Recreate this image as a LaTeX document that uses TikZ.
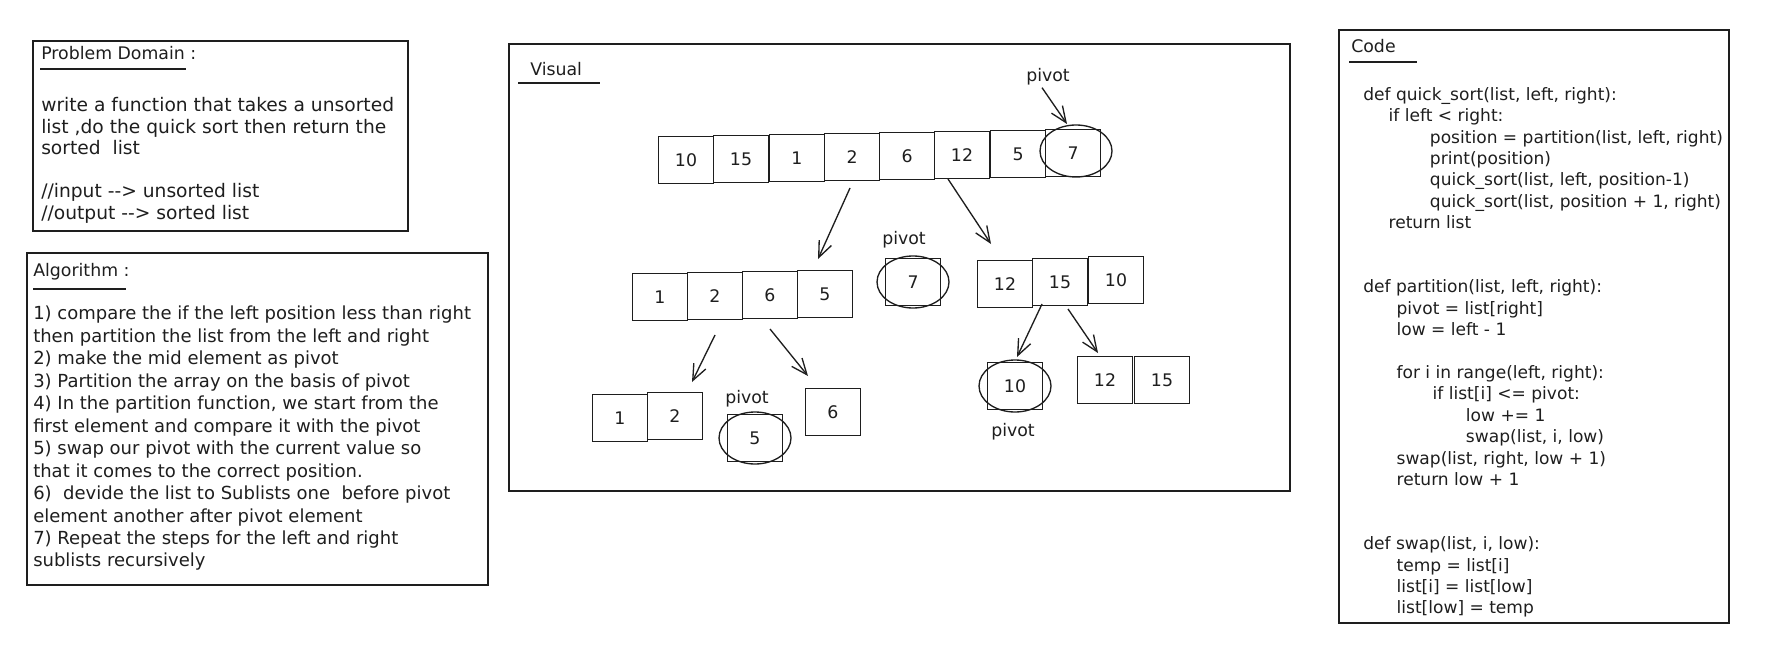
\documentclass[tikz,border=0pt]{standalone}
\usepackage{fontspec}
\setmainfont{DejaVu Sans}
\usetikzlibrary{arrows.meta}
\usetikzlibrary{calc}
\definecolor{ink}{HTML}{1E1E1E}

\begin{document}
\begin{tikzpicture}[
  x=0.75pt, y=-0.75pt,
  panel/.style={draw=ink, line width=1.2pt},
  cell/.style={draw=ink, line width=1pt, minimum width=41pt, minimum height=35pt,
    inner sep=0pt, text=ink, font=\fontsize{13}{15}\selectfont},
  ring/.style={draw=ink, line width=1pt},
  arr/.style={draw=ink, line width=1pt, -{Straight Barb[length=12pt,width=10pt]}},
  lbl/.style={inner sep=0pt, text=ink, font=\fontsize{13}{15}\selectfont},
  para/.style={inner sep=0pt, anchor=north west, align=left, text=ink},
]
\useasboundingbox (0,0) rectangle (1772,670);

% panels
\draw [panel] (33,41) rectangle (408,231);
\draw [panel] (27,253) rectangle (488,585);
\draw [panel] (509,44) rectangle (1290,491);
\draw [panel] (1339,30) rectangle (1729,623);

% problem domain
\node [lbl, anchor=base west] (pdtitle) at (41,60) {Problem Domain :};
\draw [ink, line width=1pt] (40,69) -- (186,69);
\node [para, font=\fontsize{14}{16.2}\selectfont] (pdtext) at (41,97)
  {write a function that takes a unsorted\\
   list ,do the quick sort then return the\\
   sorted\ \ list\\ \mbox{}\\
   //input {-}{-}> unsorted list\\
   //output {-}{-}> sorted list};

% algorithm
\node [lbl, anchor=base west] (algtitle) at (33,276) {Algorithm :};
\draw [ink, line width=1pt] (33,289) -- (126,289);
\node [para, font=\fontsize{13.5}{16.84}\selectfont] (algtext) at (33,306)
  {1) compare the if the left position less than right\\
   then partition the list from the left and right\\
   2) make the mid element as pivot\\
   3) Partition the array on the basis of pivot\\
   4) In the partition function, we start from the\\
   first element and compare it with the pivot\\
   5) swap our pivot with the current value so\\
   that it comes to the correct position.\\
   6)\ \ devide the list to Sublists one\ \ before pivot\\
   element another after pivot element\\
   7) Repeat the steps for the left and right\\
   sublists recursively};

% visual
\node [lbl, anchor=base west] (vistitle) at (530,76) {Visual};
\draw [ink, line width=1pt] (518,83) -- (600,83);

\node [cell] (t1) at (686,160) {10};
\node [cell] (t2) at (741,159) {15};
\node [cell] (t3) at (797,158) {1};
\node [cell] (t4) at (852,157) {2};
\node [cell] (t5) at (907,156) {6};
\node [cell] (t6) at (962,155) {12};
\node [cell] (t7) at (1018,154) {5};
\node [cell] (t8) at (1073,153) {7};
\draw [ring] ($(t8.center)+(3,-2)$) ellipse [x radius=36, y radius=26];
\node [lbl] (p1) at (1048,77) {pivot};
\draw [arr] ($(p1.south)+(-6,2)$) -- ($(t8.north)+(-6,-5)$);

\node [cell] (m1) at (660,297) {1};
\node [cell] (m2) at (715,296) {2};
\node [cell] (m3) at (770,295) {6};
\node [cell] (m4) at (825,294) {5};
\draw [arr] ($(t4.south)+(-2,7)$) -- ($(m4.north)+(-7,-11)$);

\node [cell] (c7) at (913,282) {7};
\draw [ring] (c7.center) ellipse [x radius=36, y radius=26];
\node [lbl] (p2) at (904,240) {pivot};

\node [cell] (r1) at (1005,284) {12};
\node [cell] (r2) at (1060,282) {15};
\node [cell] (r3) at (1116,280) {10};
\draw [arr] ($(t6.south)+(-14,0)$) -- ($(r1.north)+(-14,-16)$);

\node [cell] (l1) at (620,418) {1};
\node [cell] (l2) at (675,416) {2};
\node [cell] (l3) at (755,438) {5};
\draw [ring] (l3.center) ellipse [x radius=36, y radius=26];
\node [lbl] (p3) at (747,399) {pivot};
\node [cell] (l4) at (833,412) {6};
\draw [arr] ($(m2.south)+(0,15)$) -- ($(l2.north)+(17,-10)$);
\draw [arr] ($(m3.south)+(0,10)$) -- ($(l4.north)+(-25,-12)$);

\node [cell] (q1) at (1015,386) {10};
\draw [ring] (q1.center) ellipse [x radius=36, y radius=26];
\node [lbl] (p4) at (1013,432) {pivot};
\node [cell] (q2) at (1105,380) {12};
\node [cell] (q3) at (1162,380) {15};
\draw [arr] ($(r2.south)+(-18,-2)$) -- ($(q1.north)+(2,-5)$);
\draw [arr] ($(r2.south)+(8,3)$) -- ($(q2.north)+(-7,-3)$);

% code
\node [lbl, anchor=base west] (codetitle) at (1351,53) {Code};
\draw [ink, line width=1pt] (1349,62) -- (1417,62);
\node [para, font=\fontsize{12.8}{16.05}\selectfont] (codetext) at (1363,87)
  {def quick\_sort(list, left, right):\\
   \hspace*{19pt}if left < right:\\
   \hspace*{50pt}position = partition(list, left, right)\\
   \hspace*{50pt}print(position)\\
   \hspace*{50pt}quick\_sort(list, left, position-1)\\
   \hspace*{50pt}quick\_sort(list, position + 1, right)\\
   \hspace*{19pt}return list\\ \mbox{}\\ \mbox{}\\
   def partition(list, left, right):\\
   \hspace*{25pt}pivot = list[right]\\
   \hspace*{25pt}low = left - 1\\ \mbox{}\\
   \hspace*{25pt}for i in range(left, right):\\
   \hspace*{52pt}if list[i] <= pivot:\\
   \hspace*{77pt}low += 1\\
   \hspace*{77pt}swap(list, i, low)\\
   \hspace*{25pt}swap(list, right, low + 1)\\
   \hspace*{25pt}return low + 1\\ \mbox{}\\ \mbox{}\\
   def swap(list, i, low):\\
   \hspace*{25pt}temp = list[i]\\
   \hspace*{25pt}list[i] = list[low]\\
   \hspace*{25pt}list[low] = temp};

\end{tikzpicture}
\end{document}
